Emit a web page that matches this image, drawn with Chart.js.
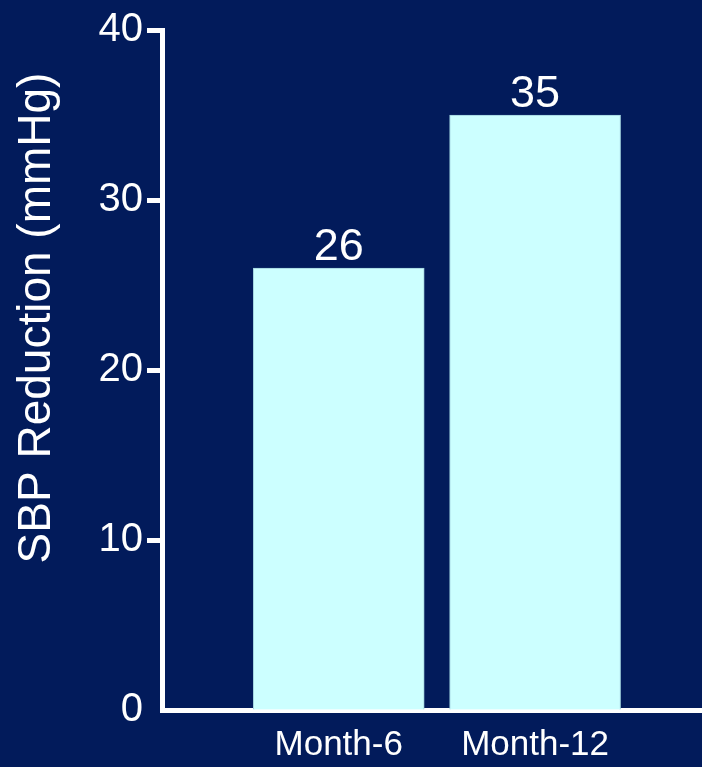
<!DOCTYPE html>
<html>
<head>
<meta charset="utf-8">
<script src="https://cdn.jsdelivr.net/npm/chart.js@4.4.0/dist/chart.umd.min.js"></script>
<style>
  html, body { margin: 0; padding: 0; background: #021b5b; }
  #wrap { width: 702px; height: 767px; position: relative; }
</style>
</head>
<body>
<div id="wrap"><canvas id="sbp_chart"></canvas></div>
<script>
// SBP reduction by visit
const months = ['Month-6', 'Month-12'];
const sbpReduction = [26, 35];
const yTicks = [0, 10, 20, 30, 40];
const yTitle = 'SBP Reduction (mmHg)';

const FONT = "'Liberation Sans', Arial, sans-serif";
const WHITE = '#ffffff';

// value printed above each bar
const barValues = {
  id: 'barValues',
  afterDatasetsDraw(chart) {
    const ctx = chart.ctx;
    const meta = chart.getDatasetMeta(0);
    ctx.save();
    ctx.fillStyle = WHITE;
    ctx.font = '45px ' + FONT;
    ctx.textAlign = 'center';
    ctx.textBaseline = 'alphabetic';
    meta.data.forEach((bar, i) => {
      ctx.fillText(String(sbpReduction[i]), bar.x, bar.y - 8);
    });
    ctx.restore();
  }
};

// rotated y-axis title, sits a bit above the middle of the axis
const axisTitle = {
  id: 'axisTitle',
  afterDraw(chart) {
    const ctx = chart.ctx;
    ctx.save();
    ctx.translate(50, 318);
    ctx.rotate(-Math.PI / 2);
    ctx.fillStyle = WHITE;
    ctx.font = '46px ' + FONT;
    ctx.textAlign = 'center';
    ctx.textBaseline = 'alphabetic';
    ctx.fillText(yTitle, 0, 0);
    ctx.restore();
  }
};

const sbpCtx = document.getElementById('sbp_chart').getContext('2d');
const sbpChart = new Chart(sbpCtx, {
  type: 'bar',
  data: {
    datasets: [
      {
        label: yTitle,
        data: sbpReduction.map((v, i) => ({ x: i + 1, y: v })),
        backgroundColor: '#ccffff',
        borderColor: '#9fd0dc',
        borderWidth: 1,
        barThickness: 171
      }
    ]
  },
  options: {
    responsive: true,
    maintainAspectRatio: false,
    animation: false,
    layout: { padding: { top: 30, right: 0, left: 0, bottom: 0 } },
    plugins: {
      legend: { display: false },
      tooltip: { enabled: false }
    },
    scales: {
      x: {
        type: 'linear',
        offset: false,
        min: 0.1,
        max: 2.85,
        afterBuildTicks: (scale) => {
          scale.ticks = months.map((m, i) => ({ value: i + 1 }));
        },
        afterFit: (scale) => { scale.height = 57; },
        grid: { display: false, drawTicks: false },
        border: { display: true, color: WHITE, width: 5 },
        ticks: {
          color: WHITE,
          font: { family: FONT, size: 35 },
          padding: 14,
          maxRotation: 0,
          autoSkip: false,
          callback: (v) => months[v - 1]
        }
      },
      y: {
        min: 0,
        max: 40,
        afterBuildTicks: (scale) => {
          scale.ticks = yTicks.map(v => ({ value: v }));
        },
        afterFit: (scale) => { scale.width = 162; },
        grid: {
          display: true,
          drawOnChartArea: false,
          drawTicks: true,
          tickLength: 15,
          tickWidth: 5,
          tickColor: (c) => (c.tick && c.tick.value === 0 ? 'rgba(0,0,0,0)' : WHITE)
        },
        border: { display: true, color: WHITE, width: 5 },
        ticks: {
          color: WHITE,
          font: { family: FONT, size: 40 },
          padding: 4
        }
      }
    }
  },
  plugins: [barValues, axisTitle]
});
</script>
</body>
</html>
